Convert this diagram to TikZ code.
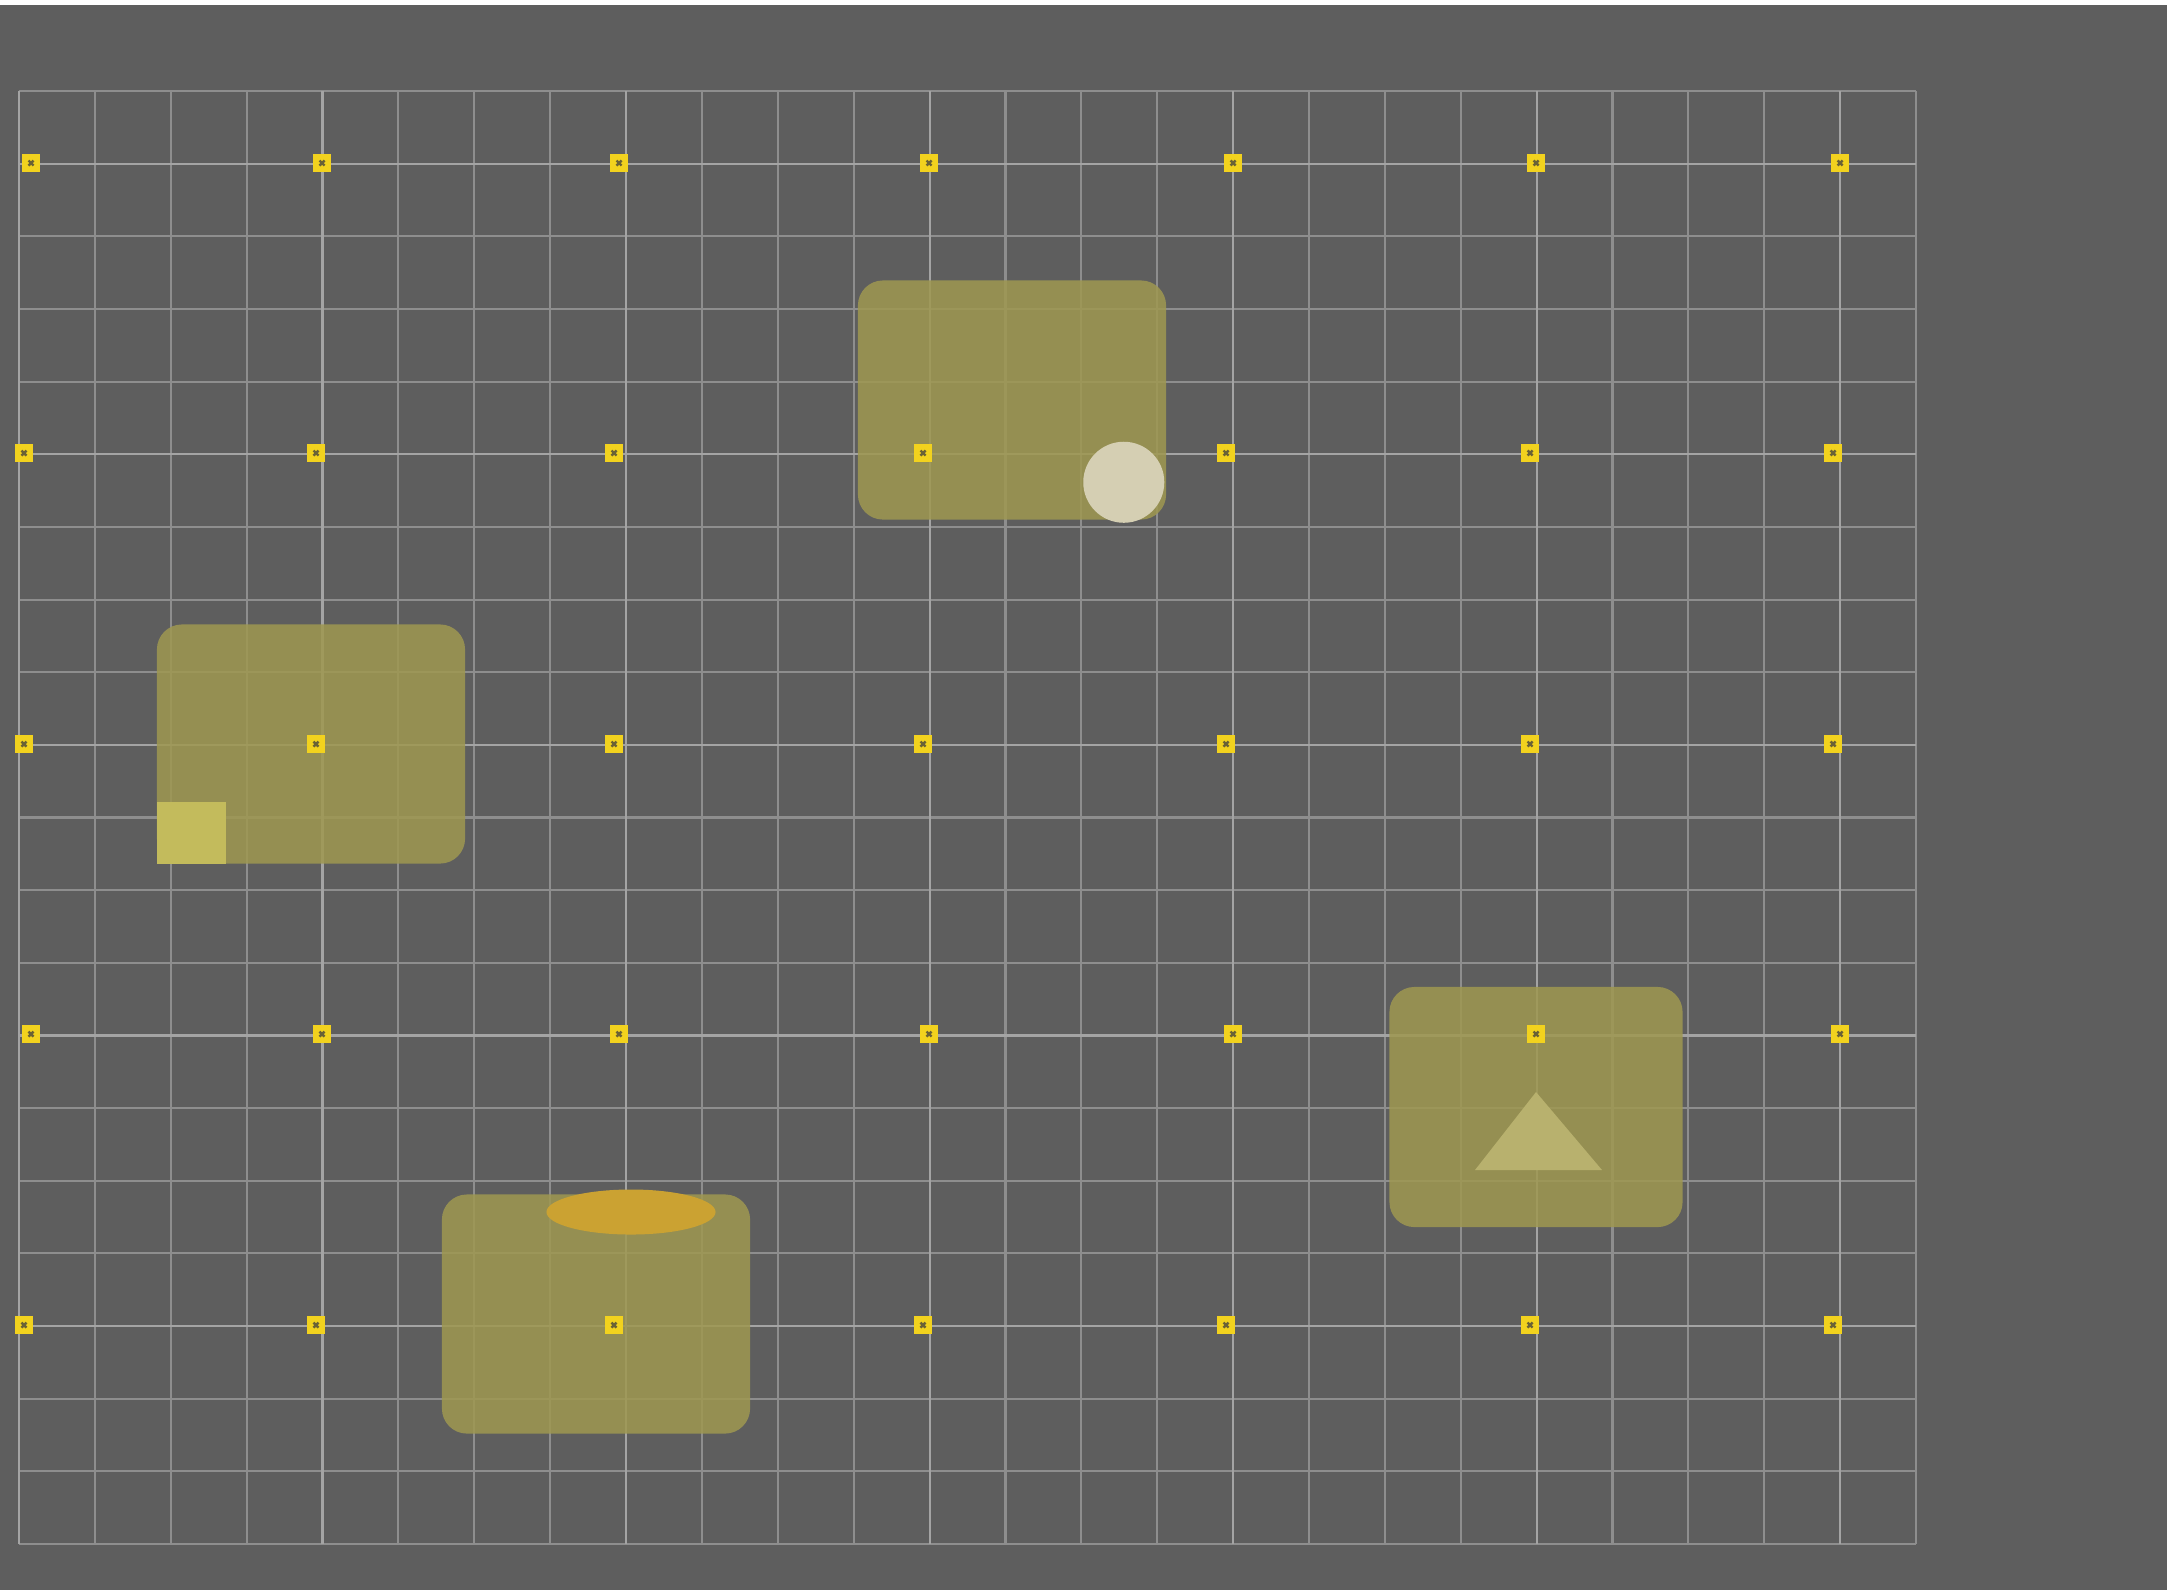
\documentclass[tikz,border=0pt]{standalone}
\usepackage{tikz}
\usetikzlibrary{positioning,shapes.geometric}
\definecolor{bggray}{HTML}{5E5E5E}
\definecolor{gridC}{HTML}{8E8E8E}
\definecolor{gridM}{HTML}{A4A4A4}
\definecolor{plateC}{HTML}{9F9850}
\definecolor{discC}{HTML}{D5CFB3}
\definecolor{chipC}{HTML}{C3BB5C}
\definecolor{ovalC}{HTML}{CBA232}
\definecolor{triC}{HTML}{B8B16E}
\definecolor{markY}{HTML}{F2D21E}
\definecolor{markD}{HTML}{6A6236}
\tikzset{
  plate/.style={rectangle, rounded corners=0.25cm, fill=plateC, fill opacity=0.85,
                minimum width=3.08cm, minimum height=2.39cm, inner sep=0pt},
  gridln/.style={draw=#1, line width=0.6pt},
  gridpt/.style={rectangle, fill=markY, minimum size=0.18cm, inner sep=0pt,
                 path picture={\draw[markD, line width=0.7pt]
                   ([shift={(-0.025cm,-0.025cm)}]path picture bounding box.center) -- ++(0.05cm,0.05cm)
                   ([shift={(-0.025cm,0.025cm)}]path picture bounding box.center) -- ++(0.05cm,-0.05cm);}},
  disc/.style={circle, fill=discC, minimum size=0.81cm, inner sep=0pt},
  chip/.style={rectangle, fill=chipC, minimum width=0.69cm, minimum height=0.62cm, inner sep=0pt},
  oval/.style={ellipse, fill=ovalC, minimum width=1.69cm, minimum height=0.45cm, inner sep=0pt},
}

\begin{document}
\begin{tikzpicture}[x=0.01cm, y=-0.01cm]
        % background
        \fill[bggray] (0,0) rectangle (2167,1590);
        \fill[white] (0,0) rectangle (2167,5);
        % grid
        \foreach \i in {0,...,25} \draw[gridln=gridC] ({19+75.88*\i},91) -- ({19+75.88*\i},1544);
        \foreach \j in {0,...,20} \draw[gridln=gridC] (19,{91+72.65*\j}) -- (1916,{91+72.65*\j});
        \foreach \i in {0,4,...,24} \draw[gridln=gridM] ({19+75.88*\i},91) -- ({19+75.88*\i},1544);
        \foreach \j in {1,5,9,13,17} \draw[gridln=gridM] (19,{91+72.65*\j}) -- (1916,{91+72.65*\j});
        % plates
        \node[plate] (plateA) at (1012,400) {};
        \node[plate] (plateB) at (311,744) {};
        \node[plate] (plateC) at (596,1314) {};
        \node[plate, minimum width=2.93cm, minimum height=2.40cm] (plateD) at (1536,1107) {};
        % items on the plates
        \node[disc] (discA) at ([xshift=-0.43cm, yshift=0.38cm]plateA.south east) {};
        \node[chip, anchor=south west] (chipB) at (plateB.south west) {};
        \node[oval] (ovalC) at (631,1212) {};
        \coordinate (apexD) at (1536,1092);
        \fill[triC] (apexD) -- ++(66,78) -- ++(-127,0) -- cycle;
        % grid points
        \foreach \y/\r in {163/1,1034/4}
          \foreach \x [count=\c] in {31,322,619,929,1233,1536,1840}
            \node[gridpt] (m-\r-\c) at (\x,\y) {};
        \foreach \y/\r in {453/2,744/3,1325/5}
          \foreach \x [count=\c] in {24,316,614,923,1226,1530,1833}
            \node[gridpt] (m-\r-\c) at (\x,\y) {};
      \end{tikzpicture}
\end{document}
